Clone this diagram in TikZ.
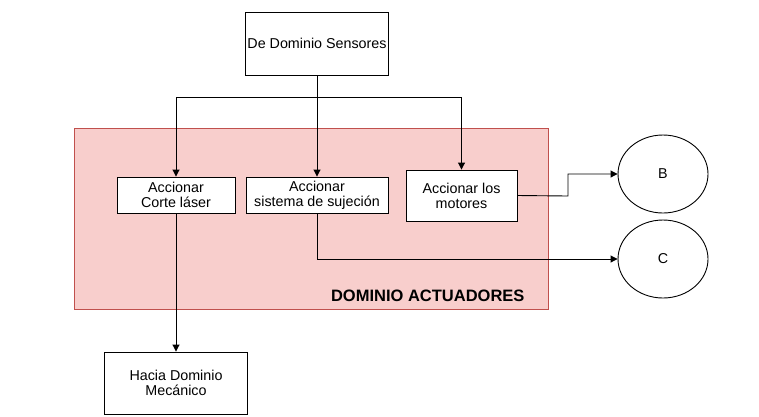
\documentclass[tikz,border=0pt]{standalone}
\usepackage{fontspec}
\setmainfont{Liberation Sans}
\usetikzlibrary{arrows.meta,shapes.geometric}
\definecolor{regfill}{HTML}{F8CECC}
\definecolor{regdraw}{HTML}{C0504D}
\tikzset{
  box/.style={draw=black, fill=white, line width=0.9pt, rectangle, inner sep=0pt, align=center,
    font=\fontsize{14.3}{14.8}\selectfont},
  circ/.style={draw=black, fill=white, line width=0.9pt, ellipse, inner sep=0pt,
    minimum width=90pt, minimum height=78pt, font=\fontsize{14.3}{14.8}\selectfont},
  conn/.style={draw=black, line width=0.9pt},
  arr/.style={conn, -{Triangle[length=7pt,width=7pt]}},
  region/.style={draw=regdraw, fill=regfill, line width=0.8pt}
}
\begin{document}
\begin{tikzpicture}[x=1pt,y=-1pt]
\useasboundingbox (0,0) rectangle (759,416);
\fill[white] (0,0) rectangle (759,416);
% region
\path[region] (74,128) rectangle (548,309);
\node[anchor=east, font=\fontsize{16.5}{18}\selectfont\bfseries] (lbl) at (528,296) {DOMINIO ACTUADORES};
% nodes
\node[box, minimum width=143pt, minimum height=63pt] (sens) at (317,43.5) {De Dominio Sensores};
\node[box, minimum width=118pt, minimum height=36pt] (corte) at (176,195) {Accionar\\Corte láser};
\node[box, minimum width=142pt, minimum height=36pt] (sist) at (317,195) {Accionar\\sistema de sujeción};
\node[box, minimum width=111pt, minimum height=51pt] (mot) at (461.5,195.5) {Accionar los\\motores};
\node[box, minimum width=143pt, minimum height=62pt] (hacia) at (176,383) {Hacia Dominio\\Mecánico};
\node[circ] (B) at (663,174) {B};
\node[circ] (C) at (663,259) {C};
% connectors
\coordinate (split) at (317,97);
\coordinate (bend) at (568,196);
\draw[conn] (sens.south) -- (split);
\draw[arr] (split) -| (corte.north);
\draw[arr] (split) -| (mot.north);
\draw[arr] (split) -- (sist.north);
\draw[arr] (corte.south) -- (hacia.north);
\draw[arr] (sist.south) |- (C.west);
\draw[arr] (mot.east) -- (bend) |- (B.west);
\end{tikzpicture}
\end{document}
